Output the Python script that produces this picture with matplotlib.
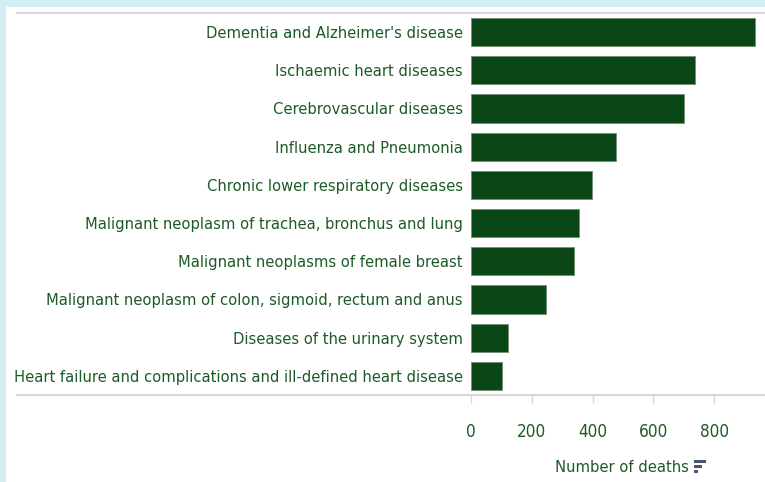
import matplotlib
matplotlib.use("Agg")
import matplotlib.pyplot as plt
from matplotlib.patches import Rectangle
from matplotlib.lines import Line2D
from matplotlib import font_manager

categories = [
    "Dementia and Alzheimer's disease",
    "Ischaemic heart diseases",
    "Cerebrovascular diseases",
    "Influenza and Pneumonia",
    "Chronic lower respiratory diseases",
    "Malignant neoplasm of trachea, bronchus and lung",
    "Malignant neoplasms of female breast",
    "Malignant neoplasm of colon, sigmoid, rectum and anus",
    "Diseases of the urinary system",
    "Heart failure and complications and ill-defined heart disease",
]
deaths = [934, 737, 700, 477, 398, 355, 339, 247, 122, 102]
xticks = [0, 200, 400, 600, 800]

# prefer a condensed face if one is installed
fam, stretch = "Roboto", "normal"
for f in font_manager.fontManager.ttflist:
    if f.style == 'normal' and f.stretch in ('condensed', 'semi-condensed') and \
            f.weight in (400, 'normal', 'regular') and f.name in (
            'Roboto', 'Roboto Condensed', 'Open Sans', 'Open Sans Condensed',
            'DejaVu Sans', 'Liberation Sans Narrow', 'Noto Sans'):
        fam, stretch = f.name, f.stretch
        break
plt.rcParams['font.family'] = [fam, 'DejaVu Sans']
plt.rcParams['font.stretch'] = stretch

W, H = 765, 482
fig = plt.figure(figsize=(W / 100, H / 100), dpi=100)
fig.patch.set_facecolor('#d3edf5')
fig.add_artist(Rectangle((6 / W, 0), 1, 1 - 7 / H, transform=fig.transFigure,
                         facecolor='white', edgecolor='none', zorder=0))

bar_color = '#0b4616'
text_color = '#1d5a27'

# fit font size so the longest label spans ~445 px
renderer = fig.canvas.get_renderer()
probe = fig.text(0, 0, categories[-1], fontsize=13.5)
wpx = probe.get_window_extent(renderer).width
probe.remove()
fs = min(13.5, 13.5 * 445 / wpx)

ax = fig.add_axes([471 / W, 1 - 395 / H, (765 - 471) / W, (395 - 13) / H])
ax.set_facecolor('none')
y = list(range(len(categories)))
ax.barh(y, deaths, height=0.74, color=bar_color, edgecolor='#6f8f74', linewidth=0.6)
ax.set_ylim(len(categories) - 0.5, -0.5)
ax.set_xlim(0, 967)
ax.set_yticks(y)
ax.set_yticklabels(categories, fontsize=fs, color=text_color)
ax.tick_params(axis='y', length=0, pad=6)
ax.set_xticks(xticks)
ax.set_xticklabels([str(v) for v in xticks], fontsize=fs + 0.5, color=text_color)
ax.tick_params(axis='x', length=6, width=1, color='#d8d8d8', pad=14)
for s in ax.spines.values():
    s.set_visible(False)

# top and bottom grey rules extending under the labels
for yy in (13, 395):
    fig.add_artist(Line2D([17 / W, 1], [1 - yy / H, 1 - yy / H], transform=fig.transFigure,
                          color='#d8d8d8', linewidth=1.5))

fig.text(689 / W, 1 - 467 / H, "Number of deaths", ha='right', va='center',
         fontsize=fs, color=text_color)
# sort icon
icon_color = '#4a5670'
for i, w_ in enumerate([12, 8, 4]):
    fig.add_artist(Rectangle((694 / W, 1 - (460 + i * 5 + 3) / H), w_ / W, 3 / H,
                             transform=fig.transFigure, facecolor=icon_color,
                             edgecolor='none'))

fig.savefig("out.png", dpi=100, facecolor=fig.get_facecolor())
